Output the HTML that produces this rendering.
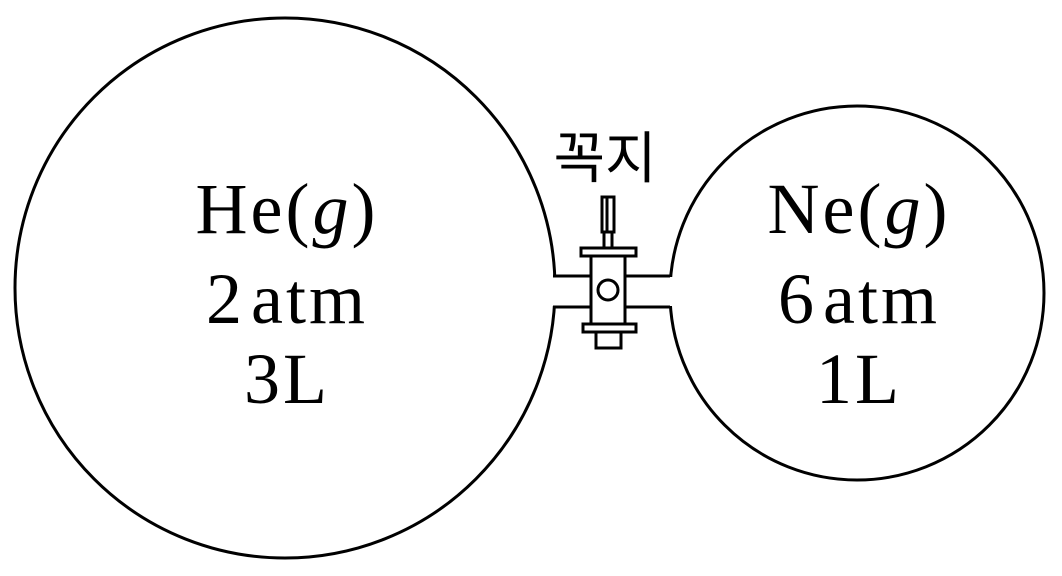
<!DOCTYPE html>
<html><head><meta charset="utf-8"><style>
html,body{margin:0;padding:0;background:#fff;}
svg{display:block;}
.t{font-family:"Liberation Serif",serif;font-size:72px;fill:#000;text-anchor:middle;letter-spacing:3px;}
</style></head><body>
<svg width="1062" height="576" viewBox="0 0 1062 576" xmlns="http://www.w3.org/2000/svg">
<g fill="none" stroke="#000" stroke-width="3">
<circle cx="285" cy="288" r="270"/>
<circle cx="857" cy="293" r="187"/>
</g>
<rect x="545" y="277" width="132" height="29" fill="#fff"/>
<g stroke="#000" stroke-width="3" fill="none">
<line x1="553" y1="276" x2="591" y2="276"/>
<line x1="553" y1="307" x2="591" y2="307"/>
<line x1="625" y1="276" x2="670" y2="276"/>
<line x1="625" y1="307" x2="670" y2="307"/>
<rect x="602" y="197" width="12" height="35" fill="#fff"/>
<line x1="607" y1="197" x2="607" y2="232"/>
<rect x="604" y="232" width="8" height="16"/>
<rect x="581" y="248" width="55" height="8" fill="#fff"/>
<rect x="591" y="256" width="34" height="68" fill="#fff"/>
<circle cx="608" cy="290" r="10"/>
<rect x="583" y="324" width="53" height="8" fill="#fff"/>
<rect x="596" y="332" width="25" height="16" fill="#fff"/>
</g>
<text x="605" y="178" font-family="'Liberation Sans','Noto Sans CJK KR',sans-serif" font-size="56" text-anchor="middle">꼭지</text>
<text class="t" x="287" y="233">He(<tspan font-style="italic">g</tspan>)</text>
<text class="t" x="287" y="323">2<tspan dx="6">atm</tspan></text>
<text class="t" x="287" y="403">3L</text>
<text class="t" x="859" y="233">Ne(<tspan font-style="italic">g</tspan>)</text>
<text class="t" x="859" y="323">6<tspan dx="6">atm</tspan></text>
<text class="t" x="859" y="403">1L</text>
</svg>
</body></html>
